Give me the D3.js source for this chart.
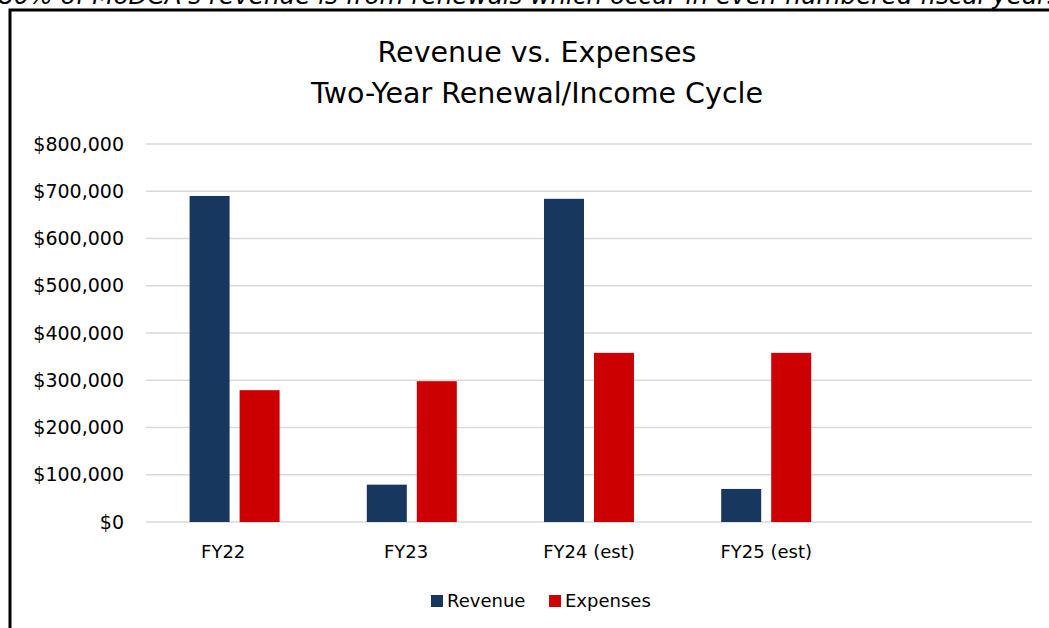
<!DOCTYPE html>
<html><head><meta charset="utf-8">
<script src="https://cdn.jsdelivr.net/npm/d3@7"></script>
<style>body{margin:0;background:#fff;overflow:hidden}svg{display:block}</style>
</head><body>
<svg id="c" width="1049" height="628"></svg>
<script>
const categories = ["FY22", "FY23", "FY24 (est)", "FY25 (est)", ""];
const xLabels = ["FY22\u00a0\u00a0\u00a0\u00a0", "FY23\u00a0\u00a0", "FY24 (est)", "FY25 (est)", ""];
const seriesNames = ["Revenue", "Expenses"];
const revenue = [690000, 79000, 684000, 70000, null];
const expenses = [279000, 298000, 358000, 358000, null];
const yTicks = [0, 100000, 200000, 300000, 400000, 500000, 600000, 700000, 800000];
const titleLines = ["Revenue vs. Expenses", "Two-Year Renewal/Income Cycle"];
const headerText = "80% of MoDCA's revenue is from renewals which occur in even-numbered fiscal years";
const colors = {Revenue: "#17375e", Expenses: "#cc0000"};

const FONT = "'DejaVu Sans', sans-serif";
const svg = d3.select("#c");
const W = 1049, H = 628;
svg.append("rect").attr("width", W).attr("height", H).attr("fill", "#fff");

// header text (clipped at top, as in the source)
svg.append("text").attr("x", -2).attr("y", 4)
  .attr("font-family", FONT).attr("font-style", "italic").attr("font-size", 24)
  .attr("textLength", 1062).attr("lengthAdjust", "spacingAndGlyphs")
  .attr("fill", "#000").text(headerText);

// chart frame border
svg.append("rect").attr("x", 10).attr("y", 10).attr("width", W + 20).attr("height", H + 20)
  .attr("fill", "#fff").attr("stroke", "#000").attr("stroke-width", 3);

const plot = {left: 146, right: 1032, top: 144, bottom: 522};
const y = d3.scaleLinear().domain([0, 800000]).range([plot.bottom, plot.top]);
const x0 = d3.scaleBand().domain(categories).range([plot.left, plot.right]).paddingInner(0.492).paddingOuter(0.246);
const x1 = d3.scaleBand().domain(seriesNames).range([0, x0.bandwidth()]).paddingInner(0.2);

// gridlines
svg.append("g").selectAll("line").data(yTicks).join("line")
  .attr("x1", plot.left).attr("x2", plot.right)
  .attr("y1", d => y(d)).attr("y2", d => y(d))
  .attr("stroke", "#d9d9d9").attr("stroke-width", 1.5);

// y axis labels
const yAxis = d3.axisLeft(y).tickValues(yTicks).tickSize(0).tickPadding(0)
  .tickFormat(d => "$" + d3.format(",")(d));
const gy = svg.append("g").attr("transform", `translate(${plot.left - 22},0)`).call(yAxis);
gy.select(".domain").remove();
gy.selectAll("text").attr("font-family", FONT).attr("font-size", 19).attr("fill", "#000");

// bars
const rows = categories.map((c, i) => ({cat: c, vals: [
  {s: "Revenue", v: revenue[i]}, {s: "Expenses", v: expenses[i]}]}));
const groups = svg.append("g").selectAll("g").data(rows).join("g")
  .attr("transform", d => `translate(${x0(d.cat)},0)`);
groups.selectAll("rect").data(d => d.vals.filter(v => v.v != null)).join("rect")
  .attr("x", d => x1(d.s)).attr("width", x1.bandwidth())
  .attr("y", d => y(d.v)).attr("height", d => y(0) - y(d.v))
  .attr("fill", d => colors[d.s]);

// x axis labels
const xAxis = d3.axisBottom(x0).tickSize(0).tickPadding(0)
  .tickFormat(d => xLabels[categories.indexOf(d)]);
const gx = svg.append("g").attr("transform", `translate(0,${plot.bottom + 36})`).call(xAxis);
gx.select(".domain").remove();
gx.selectAll("text").attr("dy", 0).attr("font-family", FONT).attr("font-size", 18).attr("fill", "#000");

// title
svg.append("g").selectAll("text").data(titleLines).join("text")
  .attr("x", 537).attr("y", (d, i) => 62 + i * 41)
  .attr("text-anchor", "middle").attr("font-family", FONT).attr("font-size", 28.5)
  .attr("fill", "#000").text(d => d);

// legend
const leg = svg.append("g").attr("transform", "translate(431,595)");
const legX = [0, 118];
seriesNames.forEach((s, i) => {
  const g = leg.append("g").attr("transform", `translate(${legX[i]},0)`);
  g.append("rect").attr("width", 12).attr("height", 12).attr("fill", colors[s]);
  g.append("text").attr("x", 16).attr("y", 12).attr("font-family", FONT).attr("font-size", 18)
    .attr("fill", "#000").text(s);
});
</script>
</body></html>
